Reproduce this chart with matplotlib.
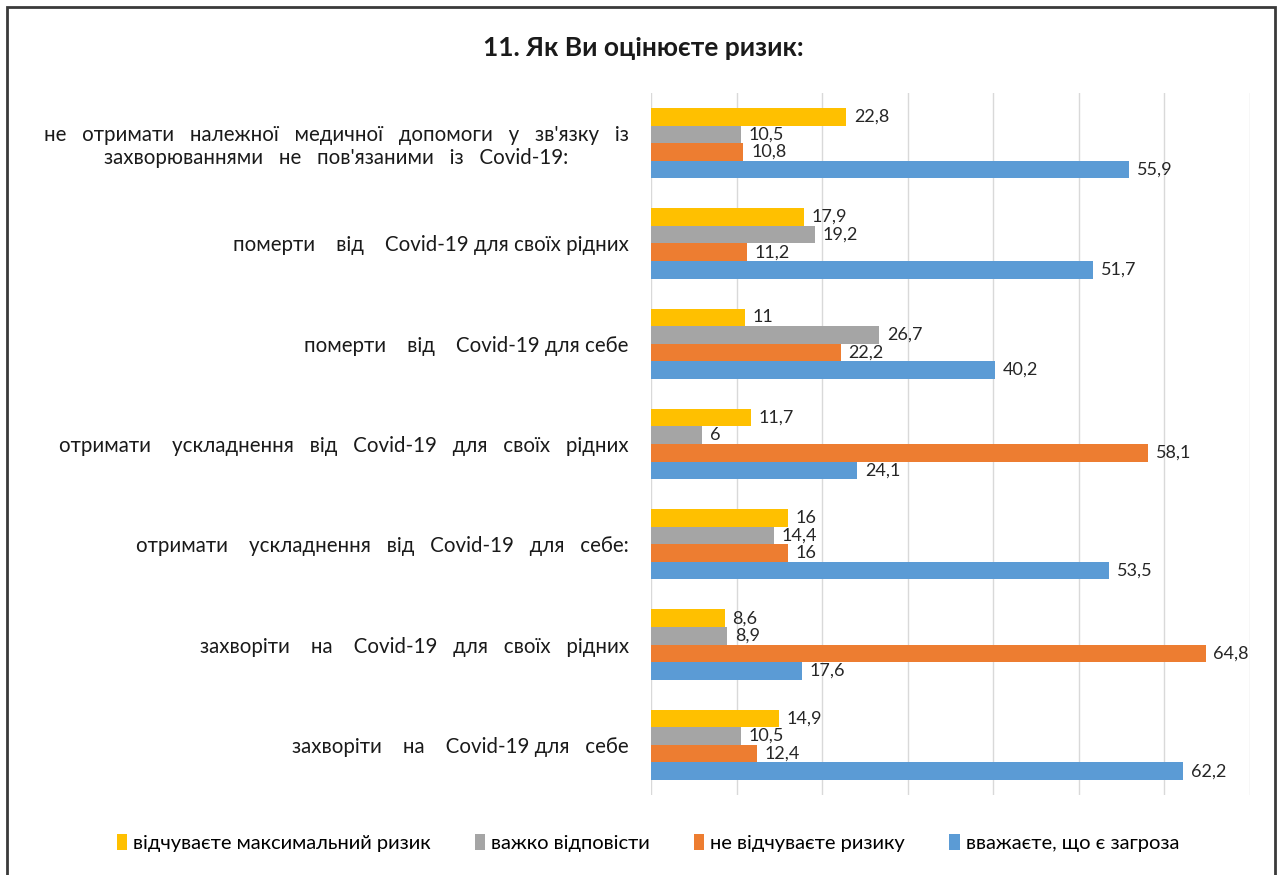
import numpy as np
import matplotlib.pyplot as plt
from matplotlib.patches import Rectangle

plt.rcParams['font.family'] = ['Lato', 'DejaVu Sans']

categories = [
    'не   отримати   належної   медичної   допомоги   у   зв\'язку   із\nзахворюваннями   не   пов\'язаними   із   Covid-19:',
    'померти    від    Covid-19 для своїх рідних',
    'померти    від    Covid-19 для себе',
    'отримати    ускладнення   від   Covid-19   для   своїх   рідних',
    'отримати    ускладнення   від   Covid-19   для   себе:',
    'захворіти    на    Covid-19   для   своїх   рідних',
    'захворіти    на    Covid-19 для   себе',
]
series_names = ['відчуваєте максимальний ризик', 'важко відповісти',
                'не відчуваєте ризику', 'вважаєте, що є загроза']
max_risk = [22.8, 17.9, 11, 11.7, 16, 8.6, 14.9]
hard_to_say = [10.5, 19.2, 26.7, 6, 14.4, 8.9, 10.5]
no_risk = [10.8, 11.2, 22.2, 58.1, 16, 64.8, 12.4]
threat = [55.9, 51.7, 40.2, 24.1, 53.5, 17.6, 62.2]
colors = ['#FFC000', '#A5A5A5', '#ED7D31', '#5B9BD5']

fig = plt.figure(figsize=(12.79, 8.75), dpi=100)
ax = fig.add_axes([651/1279, 1-795/875, 599/1279, 702/875])

n = len(categories)
y = np.arange(n)
h = 0.175
all_series = [max_risk, hard_to_say, no_risk, threat]
for k, (vals, col, name) in enumerate(zip(all_series, colors, series_names)):
    pos = y + (k - 1.5) * h
    ax.barh(pos, vals, height=h, color=col, label=name, zorder=3)
    for p, v in zip(pos, vals):
        txt = ('%g' % v).replace('.', ',')
        ax.text(v + 0.9, p, txt, va='center', ha='left', fontsize=13,
                color='#262626', zorder=4)

ax.set_xlim(0, 70)
ax.set_ylim(n - 0.5, -0.5)
ax.set_xticks(np.arange(0, 71, 10))
ax.set_xticklabels([])
ax.tick_params(axis='x', length=0)
ax.grid(axis='x', color='#D9D9D9', linewidth=1, zorder=0)
ax.set_yticks(y)
ax.set_yticklabels(categories, fontsize=14.8, color='#1a1a1a', linespacing=1.2)
ax.tick_params(axis='y', length=0, pad=16)
for lbl in ax.get_yticklabels()[:1]:
    lbl.set_multialignment('center')
for s in ax.spines.values():
    s.set_visible(False)

fig.text(643/1279, 1-48/875, '11. Як Ви оцінюєте ризик:', ha='center', va='center',
         fontsize=19, fontweight='bold', color='#1a1a1a')

handles, labels = ax.get_legend_handles_labels()
fig.legend(handles, labels, loc='center', bbox_to_anchor=(648/1279, 1-843/875),
           ncol=4, frameon=False, fontsize=14.5, handlelength=0.5, handleheight=0.8,
           handletextpad=0.3, columnspacing=2.2)

# frame around the chart area
fig.patches.append(Rectangle((7/1279, -0.05), 1268/1279, 1.05 - 7/875,
                             transform=fig.transFigure, fill=False,
                             edgecolor='#3a3a3a', linewidth=2))

fig.savefig('out.png', dpi=100)
